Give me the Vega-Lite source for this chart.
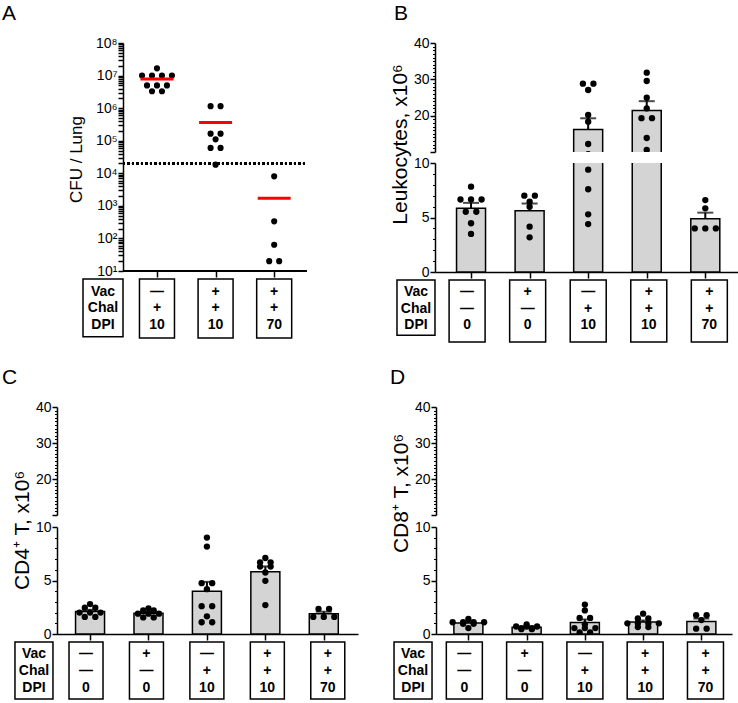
{
  "$schema": "https://vega.github.io/schema/vega-lite/v6.json",
  "background": "white",
  "padding": {"left": 2, "top": 3, "right": 0, "bottom": 0},
  "config": {
    "font": "Liberation Sans",
    "view": {"stroke": null},
    "axis": {"labelFontSize": 14, "labelColor": "black", "titleColor": "black", "domainColor": "black", "tickColor": "black", "domainWidth": 1.5, "tickWidth": 1.5, "titleFontWeight": "normal", "grid": false, "labelOverlap": false},
    "title": {"fontWeight": "normal", "fontSize": 21, "anchor": "start", "color": "black", "frame": "group"}
  },
  "datasets": {
    "A": [
      {"grp": 1, "cfu": 16700000}, {"grp": 1, "cfu": 10000000}, {"grp": 1, "cfu": 10000000}, {"grp": 1, "cfu": 10000000}, {"grp": 1, "cfu": 10000000},
      {"grp": 1, "cfu": 5000000}, {"grp": 1, "cfu": 5000000}, {"grp": 1, "cfu": 5000000}, {"grp": 1, "cfu": 3300000}, {"grp": 1, "cfu": 3300000},
      {"grp": 2, "cfu": 1150000}, {"grp": 2, "cfu": 1150000}, {"grp": 2, "cfu": 165000}, {"grp": 2, "cfu": 165000}, {"grp": 2, "cfu": 110000},
      {"grp": 2, "cfu": 60000}, {"grp": 2, "cfu": 60000}, {"grp": 2, "cfu": 18400},
      {"grp": 3, "cfu": 8070}, {"grp": 3, "cfu": 335}, {"grp": 3, "cfu": 64}, {"grp": 3, "cfu": 20}, {"grp": 3, "cfu": 20}
    ],
    "B": [
      {"grp": 1, "cells": 7.83}, {"grp": 1, "cells": 6.65}, {"grp": 1, "cells": 6.65}, {"grp": 1, "cells": 6.65}, {"grp": 1, "cells": 5.53}, {"grp": 1, "cells": 5.53}, {"grp": 1, "cells": 4.47}, {"grp": 1, "cells": 3.49},
      {"grp": 2, "cells": 7.0}, {"grp": 2, "cells": 7.0}, {"grp": 2, "cells": 6.45}, {"grp": 2, "cells": 5.99}, {"grp": 2, "cells": 4.16}, {"grp": 2, "cells": 3.18},
      {"grp": 3, "cells": 28.8}, {"grp": 3, "cells": 28.8}, {"grp": 3, "cells": 27.06}, {"grp": 3, "cells": 20.18}, {"grp": 3, "cells": 18.35}, {"grp": 3, "cells": 12.2}, {"grp": 3, "cells": 9.39}, {"grp": 3, "cells": 7.59}, {"grp": 3, "cells": 5.29}, {"grp": 3, "cells": 4.4},
      {"grp": 4, "cells": 31.83}, {"grp": 4, "cells": 29.54}, {"grp": 4, "cells": 24.94}, {"grp": 4, "cells": 22.0}, {"grp": 4, "cells": 19.3}, {"grp": 4, "cells": 19.3}, {"grp": 4, "cells": 13.85}, {"grp": 4, "cells": 10.55},
      {"grp": 5, "cells": 6.6}, {"grp": 5, "cells": 5.84}, {"grp": 5, "cells": 4.0}, {"grp": 5, "cells": 4.0}, {"grp": 5, "cells": 4.0}
    ],
    "C": [
      {"grp": 1, "cells": 2.8}, {"grp": 1, "cells": 2.45}, {"grp": 1, "cells": 2.45}, {"grp": 1, "cells": 2.0}, {"grp": 1, "cells": 2.0}, {"grp": 1, "cells": 2.0}, {"grp": 1, "cells": 1.6}, {"grp": 1, "cells": 1.6},
      {"grp": 2, "cells": 2.4}, {"grp": 2, "cells": 2.2}, {"grp": 2, "cells": 2.2}, {"grp": 2, "cells": 1.9}, {"grp": 2, "cells": 1.9}, {"grp": 2, "cells": 1.9}, {"grp": 2, "cells": 1.55}, {"grp": 2, "cells": 1.55},
      {"grp": 3, "cells": 9.01}, {"grp": 3, "cells": 8.17}, {"grp": 3, "cells": 4.75}, {"grp": 3, "cells": 4.75}, {"grp": 3, "cells": 4.19}, {"grp": 3, "cells": 2.6}, {"grp": 3, "cells": 2.6}, {"grp": 3, "cells": 1.65}, {"grp": 3, "cells": 1.1}, {"grp": 3, "cells": 1.1},
      {"grp": 4, "cells": 7.1}, {"grp": 4, "cells": 6.7}, {"grp": 4, "cells": 6.7}, {"grp": 4, "cells": 6.3}, {"grp": 4, "cells": 6.3}, {"grp": 4, "cells": 5.75}, {"grp": 4, "cells": 4.97}, {"grp": 4, "cells": 2.7},
      {"grp": 5, "cells": 2.35}, {"grp": 5, "cells": 2.35}, {"grp": 5, "cells": 1.6}, {"grp": 5, "cells": 1.6}, {"grp": 5, "cells": 1.6}
    ],
    "D": [
      {"grp": 1, "cells": 1.4}, {"grp": 1, "cells": 1.1}, {"grp": 1, "cells": 1.1}, {"grp": 1, "cells": 1.1}, {"grp": 1, "cells": 1.1}, {"grp": 1, "cells": 0.95}, {"grp": 1, "cells": 0.95}, {"grp": 1, "cells": 0.55},
      {"grp": 2, "cells": 0.9}, {"grp": 2, "cells": 0.7}, {"grp": 2, "cells": 0.7}, {"grp": 2, "cells": 0.7}, {"grp": 2, "cells": 0.55}, {"grp": 2, "cells": 0.55}, {"grp": 2, "cells": 0.45}, {"grp": 2, "cells": 0.45},
      {"grp": 3, "cells": 2.75}, {"grp": 3, "cells": 2.2}, {"grp": 3, "cells": 1.5}, {"grp": 3, "cells": 1.5}, {"grp": 3, "cells": 0.9}, {"grp": 3, "cells": 0.55}, {"grp": 3, "cells": 0.55}, {"grp": 3, "cells": 0.55}, {"grp": 3, "cells": 0.15}, {"grp": 3, "cells": 0.15},
      {"grp": 4, "cells": 1.9}, {"grp": 4, "cells": 1.45}, {"grp": 4, "cells": 1.45}, {"grp": 4, "cells": 1.0}, {"grp": 4, "cells": 1.0}, {"grp": 4, "cells": 1.0}, {"grp": 4, "cells": 1.0}, {"grp": 4, "cells": 0.65}, {"grp": 4, "cells": 0.65},
      {"grp": 5, "cells": 1.75}, {"grp": 5, "cells": 1.75}, {"grp": 5, "cells": 1.3}, {"grp": 5, "cells": 0.5}, {"grp": 5, "cells": 0.5}
    ],
    "tabA": [
      {"grp": 1, "Vac": "—", "Chal": "+", "DPI": "10"},
      {"grp": 2, "Vac": "+", "Chal": "+", "DPI": "10"},
      {"grp": 3, "Vac": "+", "Chal": "+", "DPI": "70"}
    ],
    "tabBCD": [
      {"grp": 1, "Vac": "—", "Chal": "—", "DPI": "0"},
      {"grp": 2, "Vac": "+", "Chal": "—", "DPI": "0"},
      {"grp": 3, "Vac": "—", "Chal": "+", "DPI": "10"},
      {"grp": 4, "Vac": "+", "Chal": "+", "DPI": "10"},
      {"grp": 5, "Vac": "+", "Chal": "+", "DPI": "70"}
    ]
  },
  "columns": 1,
  "align": "none",
  "spacing": 24,
  "concat": [
    {
      "hconcat": [
        {
          "vconcat": [
            {
              "width": 250, "height": 228,
              "title": {"text": "A", "dx": -55, "offset": 12},
              "data": {"name": "A"},
              "layer": [
                {"mark": {"type": "rule", "strokeDash": [2, 2.5], "strokeWidth": 2, "color": "black"},
                 "encoding": {
                   "x": {"datum": 0.42, "type": "quantitative", "scale": {"domain": [-0.706, 3.56], "zero": false, "nice": false}},
                   "x2": {"datum": 3.56},
                   "y": {"datum": 20000, "type": "quantitative", "scale": {"type": "log", "domain": [10, 100000000], "nice": false}}}},
                {"mark": {"type": "rule", "strokeWidth": 1.5, "color": "black"},
                 "encoding": {
                   "x": {"datum": 0.42, "type": "quantitative", "scale": {"domain": [-0.706, 3.56], "zero": false, "nice": false}},
                   "x2": {"datum": 3.56},
                   "y": {"datum": 10, "type": "quantitative", "scale": {"type": "log", "domain": [10, 100000000], "nice": false}}}},
                {"transform": [
                   {"window": [{"op": "row_number", "as": "r"}], "groupby": ["grp", "cfu"]},
                   {"joinaggregate": [{"op": "count", "as": "n"}], "groupby": ["grp", "cfu"]},
                   {"calculate": "datum.grp + (datum.r - (datum.n + 1) / 2) * 0.17", "as": "xp"}],
                 "mark": {"type": "point", "filled": true, "size": 38, "color": "black", "opacity": 1},
                 "encoding": {
                   "x": {"field": "xp", "type": "quantitative", "scale": {"domain": [-0.706, 3.56], "zero": false, "nice": false}, "axis": {"values": [1, 2, 3], "labels": false, "title": null, "tickSize": 6, "domain": false}},
                   "y": {"field": "cfu", "type": "quantitative", "scale": {"type": "log", "domain": [10, 100000000], "nice": false},
                     "axis": {
                       "values": [10,20,30,40,50,60,70,80,90,100,200,300,400,500,600,700,800,900,1000,2000,3000,4000,5000,6000,7000,8000,9000,10000,20000,30000,40000,50000,60000,70000,80000,90000,100000,200000,300000,400000,500000,600000,700000,800000,900000,1000000,2000000,3000000,4000000,5000000,6000000,7000000,8000000,9000000,10000000,20000000,30000000,40000000,50000000,60000000,70000000,80000000,90000000,100000000],
                       "labelExpr": "abs(log(datum.value)/LN10 - round(log(datum.value)/LN10)) < 0.000001 ? '10' + ['⁰','¹','²','³','⁴','⁵','⁶','⁷','⁸'][round(log(datum.value)/LN10)] : ''",
                       "tickSize": 5, "offset": -66, "labelOverlap": false,
                       "encode": {"ticks": {"update": {
                         "x2": {"signal": "abs(log(datum.value)/LN10 - round(log(datum.value)/LN10)) < 0.000001 ? -5 : -2.5"},
                         "strokeWidth": {"signal": "abs(log(datum.value)/LN10 - round(log(datum.value)/LN10)) < 0.000001 ? 1.5 : 1"}}}},
                       "title": "CFU / Lung", "titleFontSize": 17, "titlePadding": 10, "titleY": 116, "labelPadding": 1}}}},
                {"mark": {"type": "tick", "orient": "horizontal", "size": 33, "thickness": 3, "color": "#ff0000"},
                 "encoding": {
                   "x": {"field": "grp", "type": "quantitative", "scale": {"domain": [-0.706, 3.56], "zero": false, "nice": false}},
                   "y": {"aggregate": "mean", "field": "cfu", "type": "quantitative", "scale": {"type": "log", "domain": [10, 100000000], "nice": false}}}}
              ]
            },
            {
              "width": 250, "height": 59,
              "data": {"name": "tabA"},
              "resolve": {"scale": {"y": "independent"}},
              "layer": [
                {"mark": {"type": "rect", "width": 35, "fill": "white", "stroke": "black", "strokeWidth": 1.5},
                 "encoding": {
                   "x": {"field": "grp", "type": "quantitative", "scale": {"domain": [-0.706, 3.56], "zero": false, "nice": false}, "axis": null},
                   "y": {"datum": 0, "type": "quantitative", "scale": {"domain": [0, 1], "reverse": true, "nice": false}, "axis": null},
                   "y2": {"datum": 1}}},
                {"transform": [{"aggregate": [{"op": "count", "as": "c"}]}],
                 "mark": {"type": "rect", "width": 40, "fill": "white", "stroke": "black", "strokeWidth": 1.5},
                 "encoding": {
                   "x": {"datum": 0.079, "type": "quantitative", "scale": {"domain": [-0.706, 3.56], "zero": false, "nice": false}, "axis": null},
                   "y": {"datum": 0, "type": "quantitative", "scale": {"domain": [0, 1], "reverse": true, "nice": false}, "axis": null},
                   "y2": {"datum": 0.98}}},
                {"transform": [{"fold": ["Vac", "Chal", "DPI"], "as": ["row", "val"]}],
                 "mark": {"type": "text", "fontWeight": "bold", "fontSize": 14, "color": "black"},
                 "encoding": {
                   "x": {"field": "grp", "type": "quantitative", "scale": {"domain": [-0.706, 3.56], "zero": false, "nice": false}, "axis": null},
                   "y": {"field": "row", "type": "ordinal", "scale": {"type": "point", "domain": ["Vac", "Chal", "DPI"], "range": [12.5, 45.5], "padding": 0}, "axis": null},
                   "text": {"field": "val"}}},
                {"transform": [{"fold": ["Vac", "Chal", "DPI"], "as": ["row", "val"]}, {"aggregate": [{"op": "count", "as": "c"}], "groupby": ["row"]}],
                 "mark": {"type": "text", "fontWeight": "bold", "fontSize": 14, "color": "black"},
                 "encoding": {
                   "x": {"datum": 0.079, "type": "quantitative", "scale": {"domain": [-0.706, 3.56], "zero": false, "nice": false}, "axis": null},
                   "y": {"field": "row", "type": "ordinal", "scale": {"type": "point", "domain": ["Vac", "Chal", "DPI"], "range": [12.5, 45.5], "padding": 0}, "axis": null},
                   "text": {"field": "row"}}}
              ]
            }
          ],
          "spacing": 0
        },
        {
          "vconcat": [
            {
              "vconcat": [
                {
                  "width": 304, "height": 109,
                  "title": {"text": "B", "dx": -41, "offset": 12},
                  "data": {"name": "B"},
                  "resolve": {"axis": {"y": "independent"}},
                  "layer": [
                    {"transform": [{"aggregate": [{"op": "mean", "field": "cells", "as": "m"}], "groupby": ["grp"]}],
                     "mark": {"type": "bar", "orient": "vertical", "width": 29, "fill": "#d4d4d4", "stroke": "black", "strokeWidth": 1.5, "clip": true},
                     "encoding": {
                       "x": {"field": "grp", "type": "quantitative", "scale": {"domain": [0.47, 5.49], "zero": false, "nice": false}, "axis": null},
                       "y": {"field": "m", "type": "quantitative", "scale": {"domain": [10, 40], "zero": false, "nice": false},
                         "axis": {"orient": "left", "values": [11,12,13,14,15,16,17,18,19,21,22,23,24,25,26,27,28,29,31,32,33,34,35,36,37,38,39], "labels": false, "tickSize": 2.5, "tickWidth": 1, "domain": false, "title": null}},
                       "y2": {"datum": 0}}},
                    {"transform": [{"aggregate": [{"op": "mean", "field": "cells", "as": "m"}, {"op": "stderr", "field": "cells", "as": "se"}], "groupby": ["grp"]}, {"calculate": "datum.m + datum.se", "as": "hi"}],
                     "mark": {"type": "rule", "strokeWidth": 2, "color": "black", "clip": true},
                     "encoding": {"x": {"field": "grp", "type": "quantitative", "scale": {"domain": [0.47, 5.49], "zero": false, "nice": false}, "axis": null}, "y": {"field": "m", "type": "quantitative", "scale": {"domain": [10, 40], "zero": false, "nice": false}, "axis": null}, "y2": {"field": "hi"}}},
                    {"transform": [{"aggregate": [{"op": "mean", "field": "cells", "as": "m"}, {"op": "stderr", "field": "cells", "as": "se"}], "groupby": ["grp"]}, {"calculate": "datum.m + datum.se", "as": "hi"}],
                     "mark": {"type": "tick", "orient": "horizontal", "size": 16, "thickness": 2, "color": "black", "clip": true},
                     "encoding": {"x": {"field": "grp", "type": "quantitative", "scale": {"domain": [0.47, 5.49], "zero": false, "nice": false}, "axis": null}, "y": {"field": "hi", "type": "quantitative", "scale": {"domain": [10, 40], "zero": false, "nice": false}, "axis": null}}},
                    {"transform": [
                       {"window": [{"op": "row_number", "as": "r"}], "groupby": ["grp", "cells"]},
                       {"joinaggregate": [{"op": "count", "as": "n"}], "groupby": ["grp", "cells"]},
                       {"calculate": "datum.grp + (datum.r - (datum.n + 1) / 2) * 0.18", "as": "xp"}],
                     "mark": {"type": "point", "filled": true, "size": 40, "color": "black", "opacity": 1, "clip": true},
                     "encoding": {"x": {"field": "xp", "type": "quantitative", "scale": {"domain": [0.47, 5.49], "zero": false, "nice": false}, "axis": null},
                       "y": {"field": "cells", "type": "quantitative", "scale": {"domain": [10, 40], "zero": false, "nice": false},
                         "axis": {"orient": "left", "values": [10, 20, 30, 40], "labelExpr": "datum.value > 10 ? datum.label : ''", "tickSize": 5, "labelPadding": 1,
                           "title": "Leukocytes, x10⁶", "titleFontSize": 21, "titlePadding": 3, "titleY": 101}}}}
                  ]
                },
                {
                  "width": 304, "height": 109,
                  "data": {"name": "B"},
                  "resolve": {"axis": {"y": "independent"}},
                  "layer": [
                    {"transform": [{"aggregate": [{"op": "mean", "field": "cells", "as": "m"}], "groupby": ["grp"]}],
                     "mark": {"type": "bar", "orient": "vertical", "width": 29, "fill": "#d4d4d4", "stroke": "black", "strokeWidth": 1.5, "clip": true},
                     "encoding": {
                       "x": {"field": "grp", "type": "quantitative", "scale": {"domain": [0.47, 5.49], "zero": false, "nice": false}, "axis": {"values": [1, 2, 3, 4, 5], "labels": false, "title": null, "tickSize": 6}},
                       "y": {"field": "m", "type": "quantitative", "scale": {"domain": [0, 10], "zero": false, "nice": false},
                         "axis": {"orient": "left", "values": [1,2,3,4,6,7,8,9], "labels": false, "tickSize": 2.5, "tickWidth": 1, "domain": false, "title": null}},
                       "y2": {"datum": 0}}},
                    {"transform": [{"aggregate": [{"op": "mean", "field": "cells", "as": "m"}, {"op": "stderr", "field": "cells", "as": "se"}], "groupby": ["grp"]}, {"calculate": "datum.m + datum.se", "as": "hi"}],
                     "mark": {"type": "rule", "strokeWidth": 2, "color": "black", "clip": true},
                     "encoding": {"x": {"field": "grp", "type": "quantitative", "scale": {"domain": [0.47, 5.49], "zero": false, "nice": false}}, "y": {"field": "m", "type": "quantitative", "scale": {"domain": [0, 10], "zero": false, "nice": false}, "axis": null}, "y2": {"field": "hi"}}},
                    {"transform": [{"aggregate": [{"op": "mean", "field": "cells", "as": "m"}, {"op": "stderr", "field": "cells", "as": "se"}], "groupby": ["grp"]}, {"calculate": "datum.m + datum.se", "as": "hi"}],
                     "mark": {"type": "tick", "orient": "horizontal", "size": 16, "thickness": 2, "color": "black", "clip": true},
                     "encoding": {"x": {"field": "grp", "type": "quantitative", "scale": {"domain": [0.47, 5.49], "zero": false, "nice": false}}, "y": {"field": "hi", "type": "quantitative", "scale": {"domain": [0, 10], "zero": false, "nice": false}, "axis": null}}},
                    {"transform": [
                       {"window": [{"op": "row_number", "as": "r"}], "groupby": ["grp", "cells"]},
                       {"joinaggregate": [{"op": "count", "as": "n"}], "groupby": ["grp", "cells"]},
                       {"calculate": "datum.grp + (datum.r - (datum.n + 1) / 2) * 0.18", "as": "xp"}],
                     "mark": {"type": "point", "filled": true, "size": 40, "color": "black", "opacity": 1, "clip": true},
                     "encoding": {"x": {"field": "xp", "type": "quantitative", "scale": {"domain": [0.47, 5.49], "zero": false, "nice": false}},
                       "y": {"field": "cells", "type": "quantitative", "scale": {"domain": [0, 10], "zero": false, "nice": false},
                         "axis": {"orient": "left", "values": [0, 5, 10], "tickSize": 5, "labelPadding": 1, "title": null}}}}
                  ]
                }
              ],
              "spacing": 11, "bounds": "flush"
            },
            {
              "width": 304, "height": 62,
              "data": {"name": "tabBCD"},
              "resolve": {"scale": {"y": "independent"}},
              "layer": [
                {"mark": {"type": "rect", "width": 36, "fill": "white", "stroke": "black", "strokeWidth": 1.5},
                 "encoding": {
                   "x": {"field": "grp", "type": "quantitative", "scale": {"domain": [0.47, 5.49], "zero": false, "nice": false}, "axis": null},
                   "y": {"datum": 0, "type": "quantitative", "scale": {"domain": [0, 1], "reverse": true, "nice": false}, "axis": null},
                   "y2": {"datum": 1}}},
                {"transform": [{"aggregate": [{"op": "count", "as": "c"}]}],
                 "mark": {"type": "rect", "width": 38, "fill": "white", "stroke": "black", "strokeWidth": 1.5},
                 "encoding": {
                   "x": {"datum": 0.156, "type": "quantitative", "scale": {"domain": [0.47, 5.49], "zero": false, "nice": false}, "axis": null},
                   "y": {"datum": 0, "type": "quantitative", "scale": {"domain": [0, 1], "reverse": true, "nice": false}, "axis": null},
                   "y2": {"datum": 0.89}}},
                {"transform": [{"fold": ["Vac", "Chal", "DPI"], "as": ["row", "val"]}],
                 "mark": {"type": "text", "fontWeight": "bold", "fontSize": 14, "color": "black"},
                 "encoding": {
                   "x": {"field": "grp", "type": "quantitative", "scale": {"domain": [0.47, 5.49], "zero": false, "nice": false}, "axis": null},
                   "y": {"field": "row", "type": "ordinal", "scale": {"type": "point", "domain": ["Vac", "Chal", "DPI"], "range": [12, 45], "padding": 0}, "axis": null},
                   "text": {"field": "val"}}},
                {"transform": [{"fold": ["Vac", "Chal", "DPI"], "as": ["row", "val"]}, {"aggregate": [{"op": "count", "as": "c"}], "groupby": ["row"]}],
                 "mark": {"type": "text", "fontWeight": "bold", "fontSize": 14, "color": "black"},
                 "encoding": {
                   "x": {"datum": 0.156, "type": "quantitative", "scale": {"domain": [0.47, 5.49], "zero": false, "nice": false}, "axis": null},
                   "y": {"field": "row", "type": "ordinal", "scale": {"type": "point", "domain": ["Vac", "Chal", "DPI"], "range": [12, 45], "padding": 0}, "axis": null},
                   "text": {"field": "row"}}}
              ]
            }
          ],
          "spacing": 0
        }
      ],
      "spacing": 81
    },
    {
      "hconcat": [
        {
          "vconcat": [
            {
              "vconcat": [
                {
                  "width": 301, "height": 108,
                  "title": {"text": "C", "dx": -55, "offset": 12},
                  "data": {"name": "C"},
                  "resolve": {"axis": {"y": "independent"}},
                  "layer": [
                    {"transform": [{"aggregate": [{"op": "mean", "field": "cells", "as": "m"}], "groupby": ["grp"]}],
                     "mark": {"type": "bar", "orient": "vertical", "width": 29, "fill": "#d4d4d4", "stroke": "black", "strokeWidth": 1.5, "clip": true},
                     "encoding": {
                       "x": {"field": "grp", "type": "quantitative", "scale": {"domain": [0.52, 5.5], "zero": false, "nice": false}, "axis": null},
                       "y": {"field": "m", "type": "quantitative", "scale": {"domain": [10, 40], "zero": false, "nice": false},
                         "axis": {"orient": "left", "values": [11,12,13,14,15,16,17,18,19,21,22,23,24,25,26,27,28,29,31,32,33,34,35,36,37,38,39], "labels": false, "tickSize": 2.5, "tickWidth": 1, "domain": false, "title": null}},
                       "y2": {"datum": 0}}},
                    {"transform": [{"aggregate": [{"op": "mean", "field": "cells", "as": "m"}, {"op": "stderr", "field": "cells", "as": "se"}], "groupby": ["grp"]}, {"calculate": "datum.m + datum.se", "as": "hi"}],
                     "mark": {"type": "rule", "strokeWidth": 2, "color": "black", "clip": true},
                     "encoding": {"x": {"field": "grp", "type": "quantitative", "scale": {"domain": [0.52, 5.5], "zero": false, "nice": false}, "axis": null}, "y": {"field": "m", "type": "quantitative", "scale": {"domain": [10, 40], "zero": false, "nice": false}, "axis": null}, "y2": {"field": "hi"}}},
                    {"transform": [{"aggregate": [{"op": "mean", "field": "cells", "as": "m"}, {"op": "stderr", "field": "cells", "as": "se"}], "groupby": ["grp"]}, {"calculate": "datum.m + datum.se", "as": "hi"}],
                     "mark": {"type": "tick", "orient": "horizontal", "size": 16, "thickness": 2, "color": "black", "clip": true},
                     "encoding": {"x": {"field": "grp", "type": "quantitative", "scale": {"domain": [0.52, 5.5], "zero": false, "nice": false}, "axis": null}, "y": {"field": "hi", "type": "quantitative", "scale": {"domain": [10, 40], "zero": false, "nice": false}, "axis": null}}},
                    {"transform": [
                       {"window": [{"op": "row_number", "as": "r"}], "groupby": ["grp", "cells"]},
                       {"joinaggregate": [{"op": "count", "as": "n"}], "groupby": ["grp", "cells"]},
                       {"calculate": "datum.grp + (datum.r - (datum.n + 1) / 2) * 0.18", "as": "xp"}],
                     "mark": {"type": "point", "filled": true, "size": 40, "color": "black", "opacity": 1, "clip": true},
                     "encoding": {"x": {"field": "xp", "type": "quantitative", "scale": {"domain": [0.52, 5.5], "zero": false, "nice": false}, "axis": null},
                       "y": {"field": "cells", "type": "quantitative", "scale": {"domain": [10, 40], "zero": false, "nice": false},
                         "axis": {"orient": "left", "values": [10, 20, 30, 40], "labelExpr": "datum.value > 10 ? datum.label : ''", "tickSize": 5, "labelPadding": 1,
                           "title": "CD4⁺ T, x10⁶", "titleFontSize": 21, "titlePadding": 3, "titleY": 123}}}}
                  ]
                },
                {
                  "width": 301, "height": 107,
                  "data": {"name": "C"},
                  "resolve": {"axis": {"y": "independent"}},
                  "layer": [
                    {"transform": [{"aggregate": [{"op": "mean", "field": "cells", "as": "m"}], "groupby": ["grp"]}],
                     "mark": {"type": "bar", "orient": "vertical", "width": 29, "fill": "#d4d4d4", "stroke": "black", "strokeWidth": 1.5, "clip": true},
                     "encoding": {
                       "x": {"field": "grp", "type": "quantitative", "scale": {"domain": [0.52, 5.5], "zero": false, "nice": false}, "axis": {"values": [1, 2, 3, 4, 5], "labels": false, "title": null, "tickSize": 6}},
                       "y": {"field": "m", "type": "quantitative", "scale": {"domain": [0, 10], "zero": false, "nice": false},
                         "axis": {"orient": "left", "values": [1,2,3,4,6,7,8,9], "labels": false, "tickSize": 2.5, "tickWidth": 1, "domain": false, "title": null}},
                       "y2": {"datum": 0}}},
                    {"transform": [{"aggregate": [{"op": "mean", "field": "cells", "as": "m"}, {"op": "stderr", "field": "cells", "as": "se"}], "groupby": ["grp"]}, {"calculate": "datum.m + datum.se", "as": "hi"}],
                     "mark": {"type": "rule", "strokeWidth": 2, "color": "black", "clip": true},
                     "encoding": {"x": {"field": "grp", "type": "quantitative", "scale": {"domain": [0.52, 5.5], "zero": false, "nice": false}}, "y": {"field": "m", "type": "quantitative", "scale": {"domain": [0, 10], "zero": false, "nice": false}, "axis": null}, "y2": {"field": "hi"}}},
                    {"transform": [{"aggregate": [{"op": "mean", "field": "cells", "as": "m"}, {"op": "stderr", "field": "cells", "as": "se"}], "groupby": ["grp"]}, {"calculate": "datum.m + datum.se", "as": "hi"}],
                     "mark": {"type": "tick", "orient": "horizontal", "size": 16, "thickness": 2, "color": "black", "clip": true},
                     "encoding": {"x": {"field": "grp", "type": "quantitative", "scale": {"domain": [0.52, 5.5], "zero": false, "nice": false}}, "y": {"field": "hi", "type": "quantitative", "scale": {"domain": [0, 10], "zero": false, "nice": false}, "axis": null}}},
                    {"transform": [
                       {"window": [{"op": "row_number", "as": "r"}], "groupby": ["grp", "cells"]},
                       {"joinaggregate": [{"op": "count", "as": "n"}], "groupby": ["grp", "cells"]},
                       {"calculate": "datum.grp + (datum.r - (datum.n + 1) / 2) * 0.18", "as": "xp"}],
                     "mark": {"type": "point", "filled": true, "size": 40, "color": "black", "opacity": 1, "clip": true},
                     "encoding": {"x": {"field": "xp", "type": "quantitative", "scale": {"domain": [0.52, 5.5], "zero": false, "nice": false}},
                       "y": {"field": "cells", "type": "quantitative", "scale": {"domain": [0, 10], "zero": false, "nice": false},
                         "axis": {"orient": "left", "values": [0, 5, 10], "tickSize": 5, "labelPadding": 1, "title": null}}}}
                  ]
                }
              ],
              "spacing": 12, "bounds": "flush"
            },
            {
              "width": 301, "height": 57,
              "data": {"name": "tabBCD"},
              "resolve": {"scale": {"y": "independent"}},
              "layer": [
                {"mark": {"type": "rect", "width": 34, "fill": "white", "stroke": "black", "strokeWidth": 1.5},
                 "encoding": {
                   "x": {"field": "grp", "type": "quantitative", "scale": {"domain": [0.52, 5.5], "zero": false, "nice": false}, "axis": null},
                   "y": {"datum": 0, "type": "quantitative", "scale": {"domain": [0, 1], "reverse": true, "nice": false}, "axis": null},
                   "y2": {"datum": 1}}},
                {"transform": [{"aggregate": [{"op": "count", "as": "c"}]}],
                 "mark": {"type": "rect", "width": 38, "fill": "white", "stroke": "black", "strokeWidth": 1.5},
                 "encoding": {
                   "x": {"datum": 0.139, "type": "quantitative", "scale": {"domain": [0.52, 5.5], "zero": false, "nice": false}, "axis": null},
                   "y": {"datum": 0, "type": "quantitative", "scale": {"domain": [0, 1], "reverse": true, "nice": false}, "axis": null},
                   "y2": {"datum": 1}}},
                {"transform": [{"fold": ["Vac", "Chal", "DPI"], "as": ["row", "val"]}],
                 "mark": {"type": "text", "fontWeight": "bold", "fontSize": 14, "color": "black"},
                 "encoding": {
                   "x": {"field": "grp", "type": "quantitative", "scale": {"domain": [0.52, 5.5], "zero": false, "nice": false}, "axis": null},
                   "y": {"field": "row", "type": "ordinal", "scale": {"type": "point", "domain": ["Vac", "Chal", "DPI"], "range": [12, 45.5], "padding": 0}, "axis": null},
                   "text": {"field": "val"}}},
                {"transform": [{"fold": ["Vac", "Chal", "DPI"], "as": ["row", "val"]}, {"aggregate": [{"op": "count", "as": "c"}], "groupby": ["row"]}],
                 "mark": {"type": "text", "fontWeight": "bold", "fontSize": 14, "color": "black"},
                 "encoding": {
                   "x": {"datum": 0.139, "type": "quantitative", "scale": {"domain": [0.52, 5.5], "zero": false, "nice": false}, "axis": null},
                   "y": {"field": "row", "type": "ordinal", "scale": {"type": "point", "domain": ["Vac", "Chal", "DPI"], "range": [12, 45.5], "padding": 0}, "axis": null},
                   "text": {"field": "row"}}}
              ]
            }
          ],
          "spacing": 0
        },
        {
          "vconcat": [
            {
              "vconcat": [
                {
                  "width": 296, "height": 108,
                  "title": {"text": "D", "dx": -46, "offset": 12},
                  "data": {"name": "D"},
                  "resolve": {"axis": {"y": "independent"}},
                  "layer": [
                    {"transform": [{"aggregate": [{"op": "mean", "field": "cells", "as": "m"}], "groupby": ["grp"]}],
                     "mark": {"type": "bar", "orient": "vertical", "width": 29, "fill": "#d4d4d4", "stroke": "black", "strokeWidth": 1.5, "clip": true},
                     "encoding": {
                       "x": {"field": "grp", "type": "quantitative", "scale": {"domain": [0.53, 5.44], "zero": false, "nice": false}, "axis": null},
                       "y": {"field": "m", "type": "quantitative", "scale": {"domain": [10, 40], "zero": false, "nice": false},
                         "axis": {"orient": "left", "values": [11,12,13,14,15,16,17,18,19,21,22,23,24,25,26,27,28,29,31,32,33,34,35,36,37,38,39], "labels": false, "tickSize": 2.5, "tickWidth": 1, "domain": false, "title": null}},
                       "y2": {"datum": 0}}},
                    {"transform": [{"aggregate": [{"op": "mean", "field": "cells", "as": "m"}, {"op": "stderr", "field": "cells", "as": "se"}], "groupby": ["grp"]}, {"calculate": "datum.m + datum.se", "as": "hi"}],
                     "mark": {"type": "rule", "strokeWidth": 2, "color": "black", "clip": true},
                     "encoding": {"x": {"field": "grp", "type": "quantitative", "scale": {"domain": [0.53, 5.44], "zero": false, "nice": false}, "axis": null}, "y": {"field": "m", "type": "quantitative", "scale": {"domain": [10, 40], "zero": false, "nice": false}, "axis": null}, "y2": {"field": "hi"}}},
                    {"transform": [{"aggregate": [{"op": "mean", "field": "cells", "as": "m"}, {"op": "stderr", "field": "cells", "as": "se"}], "groupby": ["grp"]}, {"calculate": "datum.m + datum.se", "as": "hi"}],
                     "mark": {"type": "tick", "orient": "horizontal", "size": 16, "thickness": 2, "color": "black", "clip": true},
                     "encoding": {"x": {"field": "grp", "type": "quantitative", "scale": {"domain": [0.53, 5.44], "zero": false, "nice": false}, "axis": null}, "y": {"field": "hi", "type": "quantitative", "scale": {"domain": [10, 40], "zero": false, "nice": false}, "axis": null}}},
                    {"transform": [
                       {"window": [{"op": "row_number", "as": "r"}], "groupby": ["grp", "cells"]},
                       {"joinaggregate": [{"op": "count", "as": "n"}], "groupby": ["grp", "cells"]},
                       {"calculate": "datum.grp + (datum.r - (datum.n + 1) / 2) * 0.18", "as": "xp"}],
                     "mark": {"type": "point", "filled": true, "size": 40, "color": "black", "opacity": 1, "clip": true},
                     "encoding": {"x": {"field": "xp", "type": "quantitative", "scale": {"domain": [0.53, 5.44], "zero": false, "nice": false}, "axis": null},
                       "y": {"field": "cells", "type": "quantitative", "scale": {"domain": [10, 40], "zero": false, "nice": false},
                         "axis": {"orient": "left", "values": [10, 20, 30, 40], "labelExpr": "datum.value > 10 ? datum.label : ''", "tickSize": 5, "labelPadding": 1,
                           "title": "CD8⁺ T, x10⁶", "titleFontSize": 21, "titlePadding": 3, "titleY": 86}}}}
                  ]
                },
                {
                  "width": 296, "height": 107,
                  "data": {"name": "D"},
                  "resolve": {"axis": {"y": "independent"}},
                  "layer": [
                    {"transform": [{"aggregate": [{"op": "mean", "field": "cells", "as": "m"}], "groupby": ["grp"]}],
                     "mark": {"type": "bar", "orient": "vertical", "width": 29, "fill": "#d4d4d4", "stroke": "black", "strokeWidth": 1.5, "clip": true},
                     "encoding": {
                       "x": {"field": "grp", "type": "quantitative", "scale": {"domain": [0.53, 5.44], "zero": false, "nice": false}, "axis": {"values": [1, 2, 3, 4, 5], "labels": false, "title": null, "tickSize": 6}},
                       "y": {"field": "m", "type": "quantitative", "scale": {"domain": [0, 10], "zero": false, "nice": false},
                         "axis": {"orient": "left", "values": [1,2,3,4,6,7,8,9], "labels": false, "tickSize": 2.5, "tickWidth": 1, "domain": false, "title": null}},
                       "y2": {"datum": 0}}},
                    {"transform": [{"aggregate": [{"op": "mean", "field": "cells", "as": "m"}, {"op": "stderr", "field": "cells", "as": "se"}], "groupby": ["grp"]}, {"calculate": "datum.m + datum.se", "as": "hi"}],
                     "mark": {"type": "rule", "strokeWidth": 2, "color": "black", "clip": true},
                     "encoding": {"x": {"field": "grp", "type": "quantitative", "scale": {"domain": [0.53, 5.44], "zero": false, "nice": false}}, "y": {"field": "m", "type": "quantitative", "scale": {"domain": [0, 10], "zero": false, "nice": false}, "axis": null}, "y2": {"field": "hi"}}},
                    {"transform": [{"aggregate": [{"op": "mean", "field": "cells", "as": "m"}, {"op": "stderr", "field": "cells", "as": "se"}], "groupby": ["grp"]}, {"calculate": "datum.m + datum.se", "as": "hi"}],
                     "mark": {"type": "tick", "orient": "horizontal", "size": 16, "thickness": 2, "color": "black", "clip": true},
                     "encoding": {"x": {"field": "grp", "type": "quantitative", "scale": {"domain": [0.53, 5.44], "zero": false, "nice": false}}, "y": {"field": "hi", "type": "quantitative", "scale": {"domain": [0, 10], "zero": false, "nice": false}, "axis": null}}},
                    {"transform": [
                       {"window": [{"op": "row_number", "as": "r"}], "groupby": ["grp", "cells"]},
                       {"joinaggregate": [{"op": "count", "as": "n"}], "groupby": ["grp", "cells"]},
                       {"calculate": "datum.grp + (datum.r - (datum.n + 1) / 2) * 0.18", "as": "xp"}],
                     "mark": {"type": "point", "filled": true, "size": 40, "color": "black", "opacity": 1, "clip": true},
                     "encoding": {"x": {"field": "xp", "type": "quantitative", "scale": {"domain": [0.53, 5.44], "zero": false, "nice": false}},
                       "y": {"field": "cells", "type": "quantitative", "scale": {"domain": [0, 10], "zero": false, "nice": false},
                         "axis": {"orient": "left", "values": [0, 5, 10], "tickSize": 5, "labelPadding": 1, "title": null}}}}
                  ]
                }
              ],
              "spacing": 12, "bounds": "flush"
            },
            {
              "width": 296, "height": 57,
              "data": {"name": "tabBCD"},
              "resolve": {"scale": {"y": "independent"}},
              "layer": [
                {"mark": {"type": "rect", "width": 36, "fill": "white", "stroke": "black", "strokeWidth": 1.5},
                 "encoding": {
                   "x": {"field": "grp", "type": "quantitative", "scale": {"domain": [0.53, 5.44], "zero": false, "nice": false}, "axis": null},
                   "y": {"datum": 0, "type": "quantitative", "scale": {"domain": [0, 1], "reverse": true, "nice": false}, "axis": null},
                   "y2": {"datum": 1}}},
                {"transform": [{"aggregate": [{"op": "count", "as": "c"}]}],
                 "mark": {"type": "rect", "width": 38, "fill": "white", "stroke": "black", "strokeWidth": 1.5},
                 "encoding": {
                   "x": {"datum": 0.149, "type": "quantitative", "scale": {"domain": [0.53, 5.44], "zero": false, "nice": false}, "axis": null},
                   "y": {"datum": 0, "type": "quantitative", "scale": {"domain": [0, 1], "reverse": true, "nice": false}, "axis": null},
                   "y2": {"datum": 1}}},
                {"transform": [{"fold": ["Vac", "Chal", "DPI"], "as": ["row", "val"]}],
                 "mark": {"type": "text", "fontWeight": "bold", "fontSize": 14, "color": "black"},
                 "encoding": {
                   "x": {"field": "grp", "type": "quantitative", "scale": {"domain": [0.53, 5.44], "zero": false, "nice": false}, "axis": null},
                   "y": {"field": "row", "type": "ordinal", "scale": {"type": "point", "domain": ["Vac", "Chal", "DPI"], "range": [12, 45.5], "padding": 0}, "axis": null},
                   "text": {"field": "val"}}},
                {"transform": [{"fold": ["Vac", "Chal", "DPI"], "as": ["row", "val"]}, {"aggregate": [{"op": "count", "as": "c"}], "groupby": ["row"]}],
                 "mark": {"type": "text", "fontWeight": "bold", "fontSize": 14, "color": "black"},
                 "encoding": {
                   "x": {"datum": 0.149, "type": "quantitative", "scale": {"domain": [0.53, 5.44], "zero": false, "nice": false}, "axis": null},
                   "y": {"field": "row", "type": "ordinal", "scale": {"type": "point", "domain": ["Vac", "Chal", "DPI"], "range": [12, 45.5], "padding": 0}, "axis": null},
                   "text": {"field": "row"}}}
              ]
            }
          ],
          "spacing": 0
        }
      ],
      "spacing": 32
    }
  ]
}
